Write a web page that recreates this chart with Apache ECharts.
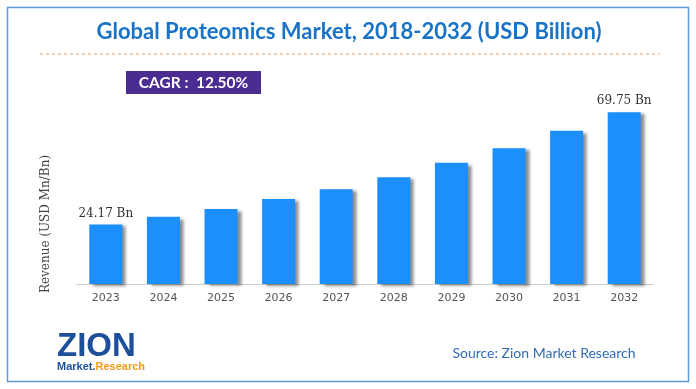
<!DOCTYPE html>
<html><head><meta charset="utf-8">
<script src="https://cdn.jsdelivr.net/npm/echarts@6/dist/echarts.min.js"></script>
<style>html,body{margin:0;padding:0;background:#fff}#c{width:696px;height:389px}</style>
</head><body><div id="c"></div>
<script>
var categories = ['2023','2024','2025','2026','2027','2028','2029','2030','2031','2032'];
var revenue = [24.17, 27.3, 30.5, 34.5, 38.5, 43.4, 49.2, 55.1, 62.2, 69.75];
var labelIdx = [0, 9];
var titleText = 'Global Proteomics Market, 2018-2032 (USD Billion)';
var cagrText = 'CAGR :  12.50%';
var yName = 'Revenue (USD Mn/Bn)';
var sourceText = 'Source: Zion Market Research';

var chart = echarts.init(document.getElementById('c'));
var data = revenue.map(function(v, i){
  var d = {value: v};
  if (labelIdx.indexOf(i) >= 0) {
    d.label = {show: true, position: 'top', distance: 5, formatter: function(p){ return p.value.toFixed(2) + ' Bn'; },
      fontFamily: 'DejaVu Serif', fontSize: 12, color: '#333'};
  }
  return d;
});
chart.setOption({
  animation: false,
  grid: {left: 77, right: 43, top: 87, bottom: 105},
  xAxis: {type: 'category', data: categories,
    axisLine: {lineStyle: {color: '#ccc', width: 1}}, axisTick: {show: false},
    axisLabel: {fontFamily: 'DejaVu Sans', fontSize: 11, color: '#555', margin: 9}},
  yAxis: {type: 'value', min: 0, max: 80, show: false},
  series: [{type: 'bar', data: data, barWidth: 33,
    itemStyle: {color: '#1b8ffc', shadowColor: 'rgba(0,0,0,0.45)', shadowBlur: 3, shadowOffsetX: 4, shadowOffsetY: 2}}],
  graphic: [
    {type: 'rect', shape: {x: 7.5, y: 7.5, width: 681, height: 374}, style: {fill: 'none', stroke: '#5b9bd5', lineWidth: 1.5}, silent: true},
    {type: 'text', x: 349, y: 32, style: {text: titleText, fontFamily: 'Lato', fontWeight: 'bold', fontSize: 22, fill: '#1a73c6', align: 'center', verticalAlign: 'middle'}},
    {type: 'line', shape: {x1: 40, y1: 54, x2: 660, y2: 54}, style: {stroke: '#f0a060', lineWidth: 1, lineDash: [3, 3]}},
    {type: 'rect', shape: {x: 126, y: 71, width: 135, height: 23}, style: {fill: '#4b2c91'}},
    {type: 'text', x: 193.5, y: 82.5, style: {text: cagrText, fontFamily: 'Lato', fontWeight: 'bold', fontSize: 15.5, fill: '#fff', align: 'center', verticalAlign: 'middle'}},
    {type: 'text', x: 46, y: 224, rotation: Math.PI/2, style: {text: yName, fontFamily: 'DejaVu Serif', fontSize: 12, fill: '#444', align: 'center', verticalAlign: 'middle'}},
    {type: 'text', x: 544, y: 353, style: {text: sourceText, fontFamily: 'Lato', fontSize: 14, fill: '#2f6db5', align: 'center', verticalAlign: 'middle'}},
    {type: 'text', x: 57, y: 347, style: {text: 'ZION', fontFamily: 'Liberation Sans', fontWeight: 'bold', fontSize: 33, fill: '#1d4f9a', verticalAlign: 'middle'}},
    {type: 'text', x: 57, y: 367, style: {text: '{a|Market.}{b|Research}', verticalAlign: 'middle',
      rich: {a: {fontFamily: 'Liberation Sans', fontWeight: 'bold', fontSize: 11, fill: '#1d4f9a'}, b: {fontFamily: 'Liberation Sans', fontWeight: 'bold', fontSize: 11, fill: '#f39a1e'}}}}
  ]
});
</script></body></html>
